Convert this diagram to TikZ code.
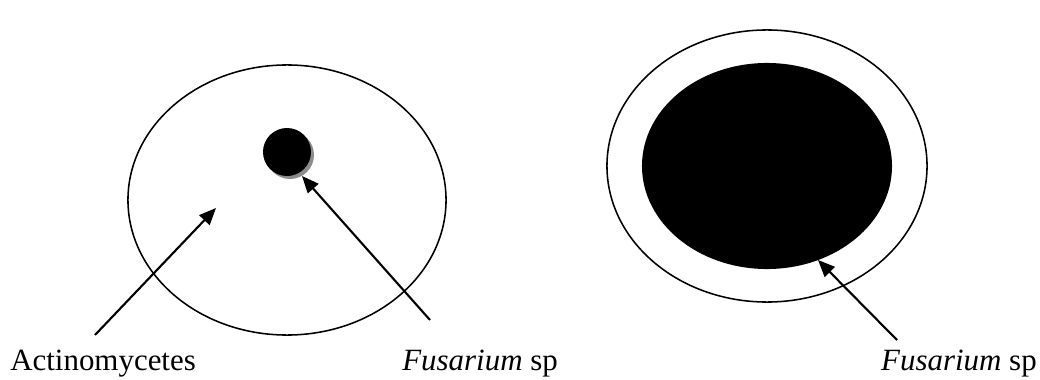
\documentclass[tikz,border=0pt]{standalone}
\usepackage{fontspec}
\setmainfont{Liberation Serif}
\usetikzlibrary{arrows.meta, positioning}

\begin{document}
\begin{tikzpicture}[x=0.025cm, y=-0.025cm, font=\fontsize{22}{26}\selectfont,
	pointer/.style={line width=1.5pt, -{Triangle[length=12pt, width=10pt]}},
	rim/.style={line width=1.1pt}]
			\useasboundingbox (0,0) rectangle (1040,380);
			\draw[rim] (287,200) ellipse [x radius=3.975cm, y radius=3.375cm];
			\fill[black!45] (290,155) circle [radius=0.6cm];
			\fill (287,152) circle [radius=0.6cm];
			\draw[rim] (767,166) ellipse [x radius=4cm, y radius=3.4cm];
			\fill (767,166) ellipse [x radius=3.125cm, y radius=2.575cm];
			\node[anchor=base west, inner sep=0pt] (actino) at (10,370) {Actinomycetes};
			\node[anchor=base west, inner sep=0pt] (fusleft) at (402,370) {\textit{Fusarium} sp};
			\node[anchor=base east, inner sep=0pt] (fusright) at (1037,370) {\textit{Fusarium} sp};
			\coordinate (actinostart) at (95,335);
			\coordinate (actinotip) at (216,208);
			\coordinate (fusleftstart) at (430,320);
			\coordinate (fuslefttip) at (302,176);
			\coordinate (fusrightstart) at (897,340);
			\coordinate (fusrighttip) at (818,260);
			\draw[pointer] (actinostart) -- (actinotip);
			\draw[pointer] (fusleftstart) -- (fuslefttip);
			\draw[pointer] (fusrightstart) -- (fusrighttip);
		\end{tikzpicture}
\end{document}
